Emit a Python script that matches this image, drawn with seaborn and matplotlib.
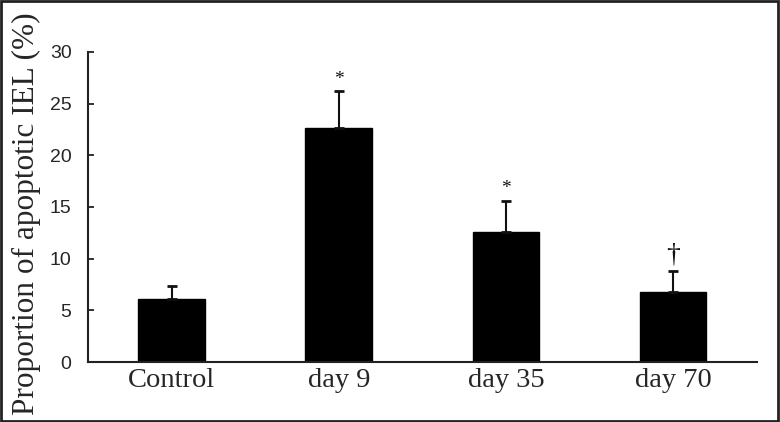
import matplotlib
matplotlib.use('Agg')
import matplotlib.pyplot as plt
import seaborn as sns
import numpy as np

# Data
groups = ['Control', 'day 9', 'day 35', 'day 70']
means = [6.1, 22.6, 12.6, 6.8]
errors = [1.3, 3.6, 3.0, 2.0]
marks = ['', '*', '*', '\u2020']

sns.set_style('white')
plt.rcParams['font.family'] = ['Liberation Serif', 'DejaVu Serif']

fig = plt.figure(figsize=(7.8, 4.22), dpi=100)
ax = fig.add_axes([0.113, 0.142, 0.857, 0.735])

sns.barplot(x=groups, y=means, color='black', width=0.4, ax=ax,
            edgecolor='black', saturation=1)

x = np.arange(len(groups))
ax.errorbar(x, means, yerr=[np.zeros(len(errors)), errors], fmt='none',
            ecolor='#111111', elinewidth=1.5, capsize=3.5, capthick=2)

# significance marks above error bars
for xi, m, e, s in zip(x, means, errors, marks):
    if s:
        ax.text(xi, m + e + 0.35, s, ha='center', va='bottom',
                fontsize=14 if s == '*' else 20, color='#111111')

ax.set_xlim(-0.5, 3.5)
ax.set_ylim(0, 30)
ax.set_yticks(range(0, 31, 5))
ax.set_yticklabels([str(v) for v in range(0, 31, 5)],
                   family=['Liberation Sans Narrow', 'Liberation Sans'], fontsize=14)
ax.set_xticks(x)
ax.set_xticklabels(groups, fontsize=20.5)
ax.set_xticks(np.arange(0.5, 4, 1), minor=True)
ax.tick_params(axis='x', which='major', length=0, pad=4)
ax.tick_params(axis='x', which='minor', direction='in', length=5, width=1.3, color='#222222')
ax.tick_params(axis='y', direction='in', length=4, width=1.3, color='#222222', pad=12, left=True)

ax.set_ylabel('Proportion of apoptotic IEL (%)', fontsize=22.5)
ax.yaxis.set_label_coords(-0.07, 0.48)
ax.set_xlabel('')

for side in ['top', 'right']:
    ax.spines[side].set_visible(False)
for side in ['left', 'bottom']:
    ax.spines[side].set_color('#222222')
    ax.spines[side].set_linewidth(1.5)

# frame around the whole figure
fig.patches.append(plt.Rectangle((0.001, 0.002), 0.997, 0.995, transform=fig.transFigure,
                                 fill=False, edgecolor='#222222', linewidth=2))

fig.savefig('out.png', dpi=100)
